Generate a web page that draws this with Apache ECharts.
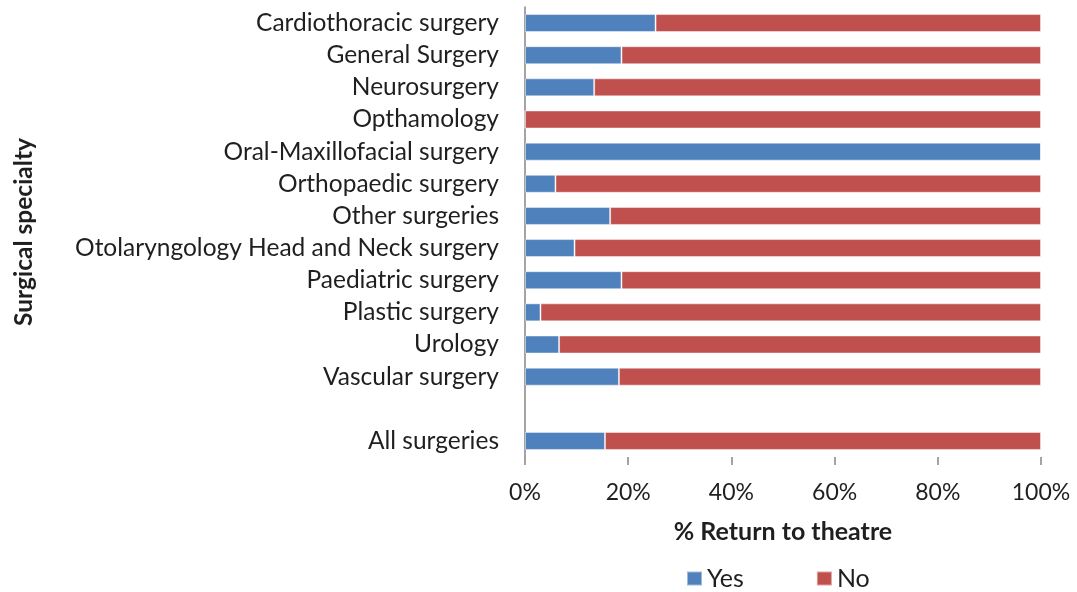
<!DOCTYPE html>
<html>
<head>
<meta charset="utf-8">
<script src="https://cdn.jsdelivr.net/npm/echarts@6/dist/echarts.min.js"></script>
<style>
  html, body { margin: 0; padding: 0; background: #fff; }
  #chart { width: 1077px; height: 592px; }
</style>
</head>
<body>
<div id="chart"></div>
<script>
// Specialties from top to bottom; the empty entry leaves a gap before the overall row
const categories = [
  'Cardiothoracic surgery',
  'General Surgery',
  'Neurosurgery',
  'Opthamology',
  'Oral-Maxillofacial surgery',
  'Orthopaedic surgery',
  'Other surgeries',
  'Otolaryngology Head and Neck surgery',
  'Paediatric surgery',
  'Plastic surgery',
  'Urology',
  'Vascular surgery',
  '',
  'All surgeries'
];

// Share (%) of patients returned to theatre
const yesValues = [25.3, 18.7, 13.4, 0, 100, 5.9, 16.5, 9.6, 18.7, 3.0, 6.6, 18.2, null, 15.5];
// Share (%) of patients not returned to theatre
const noValues = [74.7, 81.3, 86.6, 100, 0, 94.1, 83.5, 90.4, 81.3, 97.0, 93.4, 81.8, null, 84.5];

const xTicks = [0, 20, 40, 60, 80, 100];

const fontFamily = 'Lato, "Open Sans", sans-serif';
const textColor = '#1f1f1f';

const chart = echarts.init(document.getElementById('chart'));
chart.setOption({
  animation: false,
  textStyle: { fontFamily: fontFamily },
  grid: { left: 525, right: 36, top: 7, height: 450, containLabel: false },
  legend: {
    left: 681,
    top: 561,
    itemWidth: 15,
    itemHeight: 14,
    itemGap: 72,
    icon: 'rect',
    textStyle: { fontSize: 25, color: textColor, fontFamily: fontFamily },
    data: ['Yes', 'No']
  },
  xAxis: {
    type: 'value',
    min: xTicks[0],
    max: xTicks[xTicks.length - 1],
    interval: 20,
    name: '% Return to theatre',
    nameLocation: 'middle',
    nameGap: 62,
    nameTextStyle: { fontSize: 25, fontWeight: 'bold', color: textColor, fontFamily: fontFamily },
    axisLine: { show: false },
    axisTick: { show: true, length: 8, lineStyle: { color: '#868686', width: 1.5 } },
    splitLine: { show: false },
    axisLabel: {
      formatter: '{value}%',
      fontSize: 23,
      color: textColor,
      margin: 24,
      fontFamily: fontFamily
    }
  },
  yAxis: {
    type: 'category',
    inverse: true,
    data: categories,
    name: 'Surgical specialty',
    nameLocation: 'middle',
    nameRotate: 90,
    nameGap: 488,
    nameTextStyle: { fontSize: 24.5, fontWeight: 'bold', color: textColor, fontFamily: fontFamily },
    axisLine: { show: true, lineStyle: { color: '#868686', width: 1.5 } },
    axisTick: { show: false },
    axisLabel: { interval: 0, fontSize: 24.5, color: textColor, margin: 26, fontFamily: fontFamily }
  },
  series: [
    {
      name: 'Yes',
      type: 'bar',
      stack: 'total',
      barWidth: 18,
      data: yesValues,
      itemStyle: { color: '#4F81BD', borderColor: 'rgba(255,255,255,0.45)', borderWidth: 1 }
    },
    {
      name: 'No',
      type: 'bar',
      stack: 'total',
      barWidth: 18,
      data: noValues,
      itemStyle: { color: '#C0504D', borderColor: 'rgba(255,255,255,0.45)', borderWidth: 1 }
    }
  ]
});
</script>
</body>
</html>
